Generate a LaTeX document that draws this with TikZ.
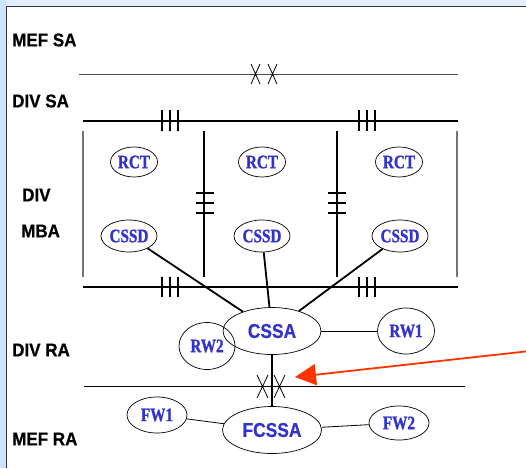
\documentclass[tikz,border=0pt]{standalone}
\usepackage{fontspec}
\setmainfont{Liberation Serif}
\setsansfont{Liberation Sans}
\newfontfamily\unitfont[FakeStretch=0.8, FakeBold=1.2]{Liberation Serif Bold}
\newfontfamily\hubfont[FakeStretch=0.87, FakeBold=0.6]{Liberation Sans Bold}
\newfontfamily\tierfont[FakeStretch=0.92, FakeBold=0.6]{Liberation Sans Bold}
\usetikzlibrary{
  arrows.meta,
  positioning,
  shapes.geometric
}
\definecolor{unitblue}{RGB}{51,51,204}
\definecolor{pointer}{RGB}{255,51,0}
\definecolor{frameside}{RGB}{204,228,255}
\definecolor{frametop}{RGB}{227,238,255}

\begin{document}
\begin{tikzpicture}[
  x=1pt, y=-1pt,
  every node/.style={font=\sffamily\bfseries},
  tier/.style={font=\fontsize{18.5}{18.5}\selectfont\tierfont,
               anchor=west, inner sep=0pt},
  unit/.style={ellipse, draw, line width=0.7pt, inner sep=0pt, text=unitblue,
               font=\fontsize{19}{19}\selectfont\unitfont},
  hub/.style={unit, font=\fontsize{20}{20}\selectfont\hubfont},
  tick/.style={line width=1.6pt},
  >=Stealth
]
\useasboundingbox (0,0) rectangle (526,468);

% Frame
\fill[frameside] (0,0) rectangle (6,468);
\fill[frametop] (6,0) rectangle (526,6);
\draw[line width=1.2pt, black!80] (6.5,468) -- (6.5,6.5) -- (526,6.5);

% Echelon labels
\node[tier] (mefsa) at (12,40) {MEF SA};
\node[tier] (divsa) at (12,101) {DIV SA};
\node[tier] (div) at (22,195) {DIV};
\node[tier] (mba) at (21,231) {MBA};
\node[tier] (divra) at (12,350) {DIV RA};
\node[tier] (mefra) at (12,439) {MEF RA};

% Boundaries
\draw[line width=0.8pt, black!70] (79,74) -- (458,74);
\draw[line width=2pt] (83,121) -- (458,121);
\draw[line width=1.2pt] (83,287) -- (458,287);
\draw[line width=0.8pt] (84,386) -- (465,386);
\foreach \x/\c in {83/black!55, 204/black, 337/black, 457/black!55}
  \draw[line width=1.5pt, \c] (\x,131) -- (\x,277);

% Break marks
\foreach \x in {162,170,178,359,367,375} {
  \draw[tick] (\x,110) -- (\x,131);
  \draw[tick] (\x,277) -- (\x,297);
}
\foreach \x in {205,337}
  \foreach \y in {193,203,213}
    \draw[line width=1.2pt] (\x-9,\y) -- (\x+9,\y);
\foreach \x in {255.5,272.5}
  \draw[line width=0.8pt] (\x-4.5,64) -- (\x+4.5,84) (\x+4.5,64) -- (\x-4.5,84);
\foreach \x in {262.5,279.5}
  \draw[line width=0.8pt] (\x-5.5,375) -- (\x+5.5,398) (\x+5.5,375) -- (\x-5.5,398);

% Division units
\foreach \i/\x in {1/134, 2/262, 3/399}
  \node[unit, minimum width=47, minimum height=30] (rct\i) at (\x,162) {RCT};
\foreach \i/\x in {1/129, 2/262, 3/400}
  \node[unit, minimum width=56, minimum height=32] (cssd\i) at (\x,236) {CSSD};

% Support areas
\node[hub, minimum width=98, minimum height=47] (cssa) at (272,331) {CSSA};
\node[unit, minimum width=56, minimum height=47] (rw2) at (207,346) {RW2};
\node[unit, minimum width=57, minimum height=46] (rw1) at (406,331) {RW1};
\node[hub, minimum width=99, minimum height=47] (fcssa) at (272,430) {FCSSA};
\node[unit, minimum width=60, minimum height=36] (fw1) at (157,415) {FW1};
\node[unit, minimum width=60, minimum height=34] (fw2) at (399,423) {FW2};

% Links
\foreach \i in {1,2,3}
  \draw[line width=1.8pt] (cssd\i) -- (cssa);
\draw[line width=2.5pt] (cssa) -- (fcssa);
\draw[line width=0.8pt] (cssa) -- (rw1);
\draw[line width=0.8pt] (fw1) -- (fcssa);
\draw[line width=0.8pt] (fcssa) -- (fw2);

% Pointer
\coordinate (tail) at (530,351);
\coordinate (tip) at (295,377);
\draw[-{Triangle[length=21pt, width=21pt]}, line width=1.8pt, pointer]
  (tail) -- (tip);

\end{tikzpicture}
\end{document}
